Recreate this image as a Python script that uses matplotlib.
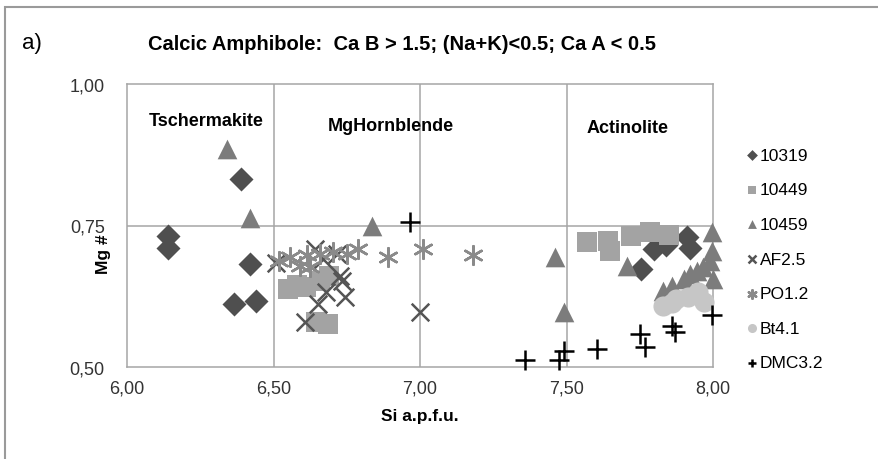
import matplotlib
matplotlib.use("Agg")
import matplotlib.pyplot as plt
from matplotlib.patches import Rectangle
from matplotlib.ticker import FixedLocator, FuncFormatter

plt.rcParams['font.family'] = ['Liberation Sans', 'DejaVu Sans']

# ---- data ----
x_10319 = [6.14, 6.14, 6.39, 6.42, 6.365, 6.44, 7.755, 7.80, 7.84, 7.91, 7.92]
y_10319 = [0.731, 0.711, 0.832, 0.682, 0.611, 0.617, 0.673, 0.708, 0.715, 0.729, 0.71]

x_10449 = [6.55, 6.58, 6.61, 6.66, 6.69, 6.645, 6.685, 7.57, 7.64, 7.65, 7.72, 7.785, 7.85]
y_10449 = [0.638, 0.645, 0.641, 0.652, 0.661, 0.579, 0.576, 0.72, 0.723, 0.705, 0.731, 0.738, 0.733]

x_10459 = [6.34, 6.42, 6.835, 7.46, 7.49, 7.705, 7.995, 7.83, 7.86, 7.90, 7.92, 7.945, 7.965, 7.99, 7.995, 8.0]
y_10459 = [0.886, 0.763, 0.75, 0.694, 0.597, 0.679, 0.738, 0.634, 0.643, 0.655, 0.664, 0.67, 0.677, 0.687, 0.705, 0.655]

x_af = [7.0, 6.607, 6.653, 6.68, 6.733, 6.744, 6.727, 6.642, 6.51, 6.67, 6.716]
y_af = [0.597, 0.579, 0.611, 0.632, 0.652, 0.623, 0.661, 0.708, 0.684, 0.69, 0.70]

x_po = [7.182, 7.011, 6.892, 6.79, 6.75, 6.704, 6.66, 6.613, 6.556, 6.52, 6.59, 6.625]
y_po = [0.697, 0.708, 0.694, 0.708, 0.70, 0.703, 0.70, 0.697, 0.694, 0.688, 0.679, 0.676]

x_bt = [7.83, 7.86, 7.875, 7.915, 7.95, 7.97]
y_bt = [0.607, 0.613, 0.62, 0.624, 0.632, 0.615]

x_dmc = [6.965, 7.36, 7.475, 7.49, 7.603, 7.751, 7.768, 7.859, 7.87, 7.996]
y_dmc = [0.757, 0.512, 0.512, 0.528, 0.532, 0.558, 0.535, 0.573, 0.561, 0.591]

x_ticks = [6.0, 6.5, 7.0, 7.5, 8.0]
y_ticks = [0.50, 0.75, 1.00]
region_labels = ["Tschermakite", "MgHornblende", "Actinolite"]
region_x = [6.27, 6.90, 7.71]
region_y = [0.935, 0.926, 0.924]

fig = plt.figure(figsize=(8.79, 4.60), dpi=100)
ax = fig.add_axes([127/879, 1-368/460, (713-127)/879, (368-85)/460])

grid_c = '#a6a6a6'
for xv in x_ticks[1:-1]:
    ax.axvline(xv, color=grid_c, lw=1.1, zorder=1)
ax.axhline(0.75, color=grid_c, lw=1.1, zorder=1)

ax.scatter(x_10319, y_10319, marker='D', s=150, color='#4f4f4f', label='10319', zorder=3, clip_on=False, linewidths=0)
ax.scatter(x_10449, y_10449, marker='s', s=200, color='#a3a3a3', label='10449', zorder=3, clip_on=False, linewidths=0)
ax.scatter(x_10459, y_10459, marker='^', s=200, color='#7c7c7c', label='10459', zorder=3, clip_on=False, linewidths=0)
ax.scatter(x_af, y_af, marker='x', s=160, color='#555555', label='AF2.5', zorder=4, clip_on=False, linewidths=1.8)
ax.scatter(x_po, y_po, marker=(6, 2, 0), s=180, color='#8a8a8a', label='PO1.2', zorder=4, clip_on=False, linewidths=1.8)
ax.scatter(x_bt, y_bt, marker='o', s=210, color='#c6c6c6', label='Bt4.1', zorder=4, clip_on=False, linewidths=0)
ax.scatter(x_dmc, y_dmc, marker='+', s=200, color='#000000', label='DMC3.2', zorder=5, clip_on=False, linewidths=1.8)

ax.set_xlim(6.0, 8.0)
ax.set_ylim(0.5, 1.0)
ax.xaxis.set_major_locator(FixedLocator(x_ticks))
ax.yaxis.set_major_locator(FixedLocator(y_ticks))
fmt = FuncFormatter(lambda v, p: f"{v:.2f}".replace('.', ','))
ax.xaxis.set_major_formatter(fmt)
ax.yaxis.set_major_formatter(fmt)
ax.tick_params(length=0, labelsize=13, colors='#333333')
ax.tick_params(axis='x', pad=9)
ax.tick_params(axis='y', pad=16)
for s in ax.spines.values():
    s.set_color(grid_c)
    s.set_linewidth(1.1)

ax.set_xlabel("Si a.p.f.u.", fontsize=12.5, fontweight='bold', labelpad=8)
fig.text(104/879, 1-254/460, "Mg #", fontsize=12.5, fontweight='bold', rotation=90,
         ha='center', va='center')

for lab, xx, yy in zip(region_labels, region_x, region_y):
    ax.text(xx, yy, lab, fontsize=13, fontweight='bold', ha='center', va='center', zorder=6)

fig.text(148/879, 1-44/460, "Calcic Amphibole:  Ca B > 1.5; (Na+K)<0.5; Ca A < 0.5",
         fontsize=14.5, fontweight='bold', ha='left', va='center')
fig.text(22/879, 1-44/460, "a)", fontsize=16, ha='left', va='center')

leg = fig.legend(loc='upper left', bbox_to_anchor=(738/879, 1-140/460), frameon=False,
                 fontsize=12.5, markerscale=0.45, handlelength=0.6, handletextpad=0.15,
                 labelspacing=1.12, borderpad=0)

fig.patches.append(Rectangle((5/879, -0.1), 1.2, 1-8/460+0.1, transform=fig.transFigure,
                             fill=False, edgecolor='#9a9a9a', lw=1.5))

fig.savefig("out.png", dpi=100)
